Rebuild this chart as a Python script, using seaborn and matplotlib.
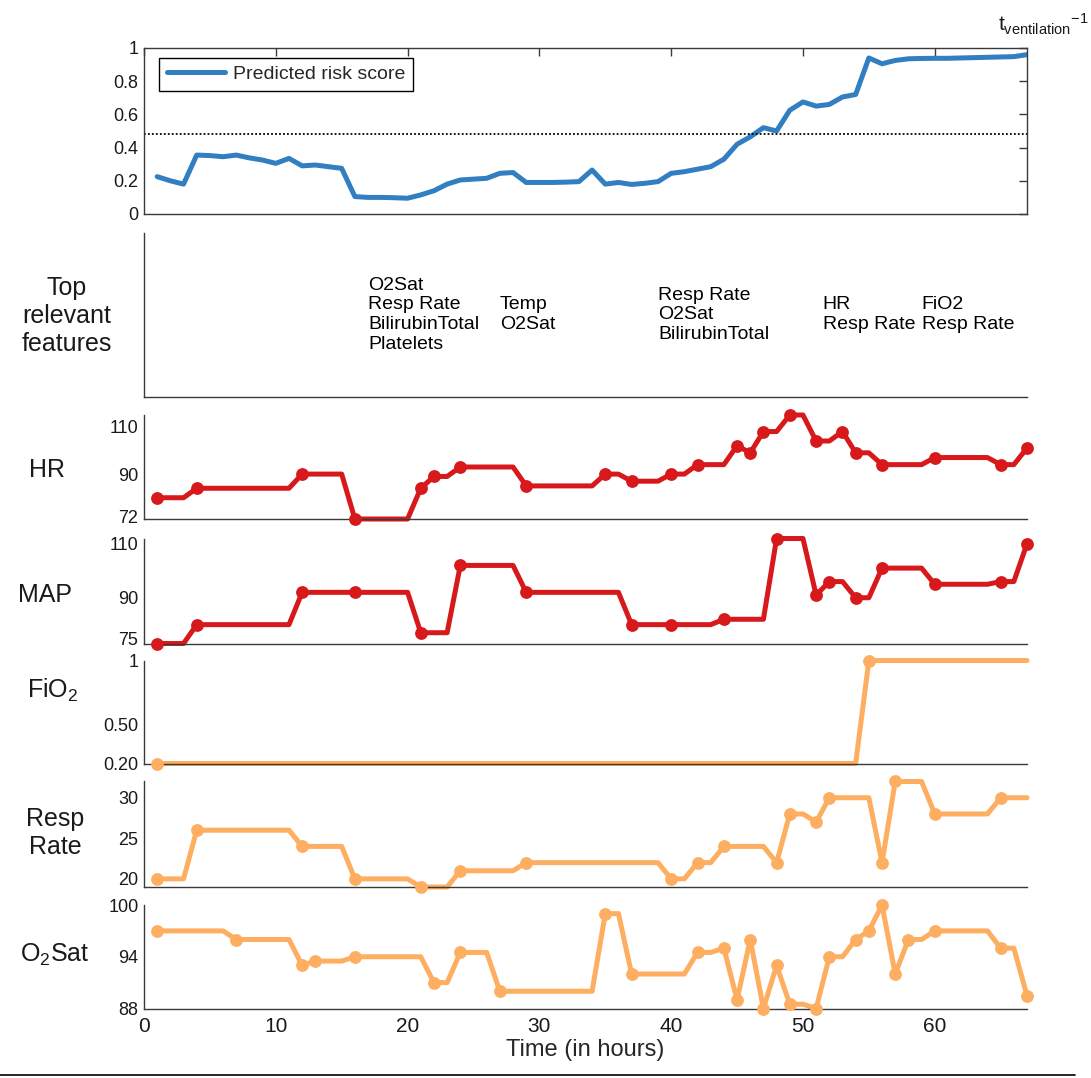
import numpy as np
import pandas as pd
import matplotlib
matplotlib.use("Agg")
import matplotlib.pyplot as plt
from matplotlib.lines import Line2D
import seaborn as sns

# ---------------- data ----------------
hours = list(range(1, 68))

risk_score = [0.225, 0.20, 0.18, 0.355, 0.352, 0.345, 0.355, 0.338, 0.325, 0.305,
              0.335, 0.29, 0.295, 0.285, 0.275, 0.105, 0.10, 0.10, 0.098, 0.095,
              0.115, 0.14, 0.18, 0.205, 0.21, 0.215, 0.245, 0.25, 0.19, 0.19,
              0.19, 0.192, 0.195, 0.265, 0.18, 0.19, 0.178, 0.185, 0.195, 0.245,
              0.255, 0.27, 0.285, 0.33, 0.42, 0.465, 0.52, 0.50, 0.625, 0.675,
              0.65, 0.66, 0.705, 0.72, 0.94, 0.905, 0.925, 0.935, 0.937, 0.938,
              0.938, 0.94, 0.942, 0.944, 0.946, 0.948, 0.96]
risk_threshold = 0.48

feature_hours = [17, 27, 39, 51.5, 59]
feature_lists = [["O2Sat", "Resp Rate", "BilirubinTotal", "Platelets"],
                 ["Temp", "O2Sat"],
                 ["Resp Rate", "O2Sat", "BilirubinTotal"],
                 ["HR", "Resp Rate"],
                 ["FiO2", "Resp Rate"]]

hr_times = [1, 4, 12, 16, 21, 22, 24, 29, 35, 37, 40, 42, 45, 46, 47, 49, 51, 53, 54, 56, 60, 65, 67]
hr_values = [80, 84, 90, 71, 84, 89, 93, 85, 90, 87, 90, 94, 102, 99, 108, 115, 104, 108, 99, 94, 97, 94, 101]

map_times = [1, 4, 12, 16, 21, 24, 29, 37, 40, 44, 48, 51, 52, 54, 56, 60, 65, 67]
map_values = [73, 80, 92, 92, 77, 102, 92, 80, 80, 82, 112, 91, 96, 90, 101, 95, 96, 110]

fio2_times = [1, 55]
fio2_values = [0.20, 1.0]

rr_times = [1, 4, 12, 16, 21, 24, 29, 40, 42, 44, 48, 49, 51, 52, 56, 57, 60, 65]
rr_values = [20, 26, 24, 20, 19, 21, 22, 20, 22, 24, 22, 28, 27, 30, 22, 32, 28, 30]

o2_times = [1, 7, 12, 13, 16, 22, 24, 27, 35, 37, 42, 44, 45, 46, 47, 48, 49, 51, 52, 54, 55, 56, 57, 58, 60, 65, 67]
o2_values = [97, 96, 93, 93.5, 94, 91, 94.5, 90, 99, 92, 94.5, 95, 89, 96, 88, 93, 88.5, 88, 94, 96, 97, 100, 92, 96, 97, 95, 89.5]

x_ticks = [0, 10, 20, 30, 40, 50, 60]

# ---------------- style ----------------
sns.set_theme(style="white")
plt.rcParams["font.family"] = ["Liberation Sans", "DejaVu Sans"]
plt.rcParams["mathtext.fontset"] = "custom"
plt.rcParams["mathtext.rm"] = "Liberation Sans"
plt.rcParams["mathtext.it"] = "Liberation Sans:italic"
plt.rcParams["mathtext.bf"] = "Liberation Sans:bold"

AX_COLOR = "#3a3a3a"
BLUE = "#317FC0"
RED = "#D7191C"
ORANGE = "#FDAE61"

W, H = 1091, 1078
fig = plt.figure(figsize=(W / 100, H / 100), dpi=100)


def panel_rect(top, bottom, left=144, right=1027):
    return [left / W, 1 - bottom / H, (right - left) / W, (bottom - top) / H]


def style_axes(ax, box=False, show_xlabels=False):
    ax.set_facecolor("white")
    for name, sp in ax.spines.items():
        sp.set_color(AX_COLOR)
        sp.set_linewidth(1.0)
    if not box:
        ax.spines["top"].set_visible(False)
        ax.spines["right"].set_visible(False)
    ax.set_xlim(0, 67)
    ax.set_xticks(x_ticks)
    ax.tick_params(direction="in", length=6, width=1, color=AX_COLOR,
                   labelsize=13, labelcolor="#1a1a1a",
                   top=box, right=box)
    ax.tick_params(axis="y", pad=4)
    ax.tick_params(axis="x", labelsize=15, pad=6)
    if not show_xlabels:
        ax.set_xticklabels([])
    ax.set_xlabel("")
    ax.set_ylabel("")
    ax.grid(False)


def vital_panel(ax, times, values, color, ylim, yticks, yticklabels):
    filled = pd.Series(values, index=times, dtype=float).reindex(hours).ffill()
    line_df = pd.DataFrame({"hour": hours, "value": filled.values})
    meas_df = pd.DataFrame({"hour": times, "value": values})
    sns.lineplot(data=line_df, x="hour", y="value", ax=ax, color=color,
                 linewidth=3.6, errorbar=None, clip_on=False,
                 solid_joinstyle="round", solid_capstyle="round")
    sns.scatterplot(data=meas_df, x="hour", y="value", ax=ax, color=color,
                    s=85, linewidth=0, zorder=3, clip_on=False, legend=False)
    ax.set_ylim(*ylim)
    ax.set_yticks(yticks)
    ax.set_yticklabels(yticklabels)


# ---------------- risk score panel ----------------
ax_risk = fig.add_axes(panel_rect(48, 214))
risk_df = pd.DataFrame({"hour": hours, "risk": risk_score})
sns.lineplot(data=risk_df, x="hour", y="risk", ax=ax_risk, color=BLUE,
             linewidth=3.6, errorbar=None, label="Predicted risk score",
             solid_joinstyle="round")
ax_risk.axhline(risk_threshold, color="black", linestyle=(0, (1, 1.2)), linewidth=1.3)
ax_risk.set_ylim(0, 1)
ax_risk.set_yticks([0, 0.2, 0.4, 0.6, 0.8, 1.0])
ax_risk.set_yticklabels(["0", "0.2", "0.4", "0.6", "0.8", "1"])
style_axes(ax_risk, box=True)
leg = ax_risk.legend(loc="upper left", fontsize=14, frameon=True, fancybox=False,
                     edgecolor="black", framealpha=1, handlelength=3.0,
                     handletextpad=0.4, borderpad=0.4, borderaxespad=0,
                     bbox_to_anchor=(15.3 / 883, 1 - 9.7 / 166))
leg.get_frame().set_linewidth(1.0)

# ---------------- relevant features panel ----------------
ax_feat = fig.add_axes(panel_rect(232.5, 397))
ax_feat.set_ylim(0, 1)
ax_feat.set_yticks([0, 0.5, 1])
ax_feat.set_yticklabels([])
style_axes(ax_feat)
for t, feats in zip(feature_hours, feature_lists):
    ax_feat.text(t, 0.5, "\n".join(feats), ha="left", va="center",
                 fontsize=14, color="black", linespacing=1.2)

# ---------------- vital sign panels ----------------
ax_hr = fig.add_axes(panel_rect(415, 519))
vital_panel(ax_hr, hr_times, hr_values, RED, (71, 115), [72, 90, 110], ["72", "90", "110"])
style_axes(ax_hr)

ax_map = fig.add_axes(panel_rect(538.5, 643.5))
vital_panel(ax_map, map_times, map_values, RED, (73, 112), [75, 90, 110], ["75", "90", "110"])
style_axes(ax_map)

ax_fio2 = fig.add_axes(panel_rect(660.5, 763.5))
vital_panel(ax_fio2, fio2_times, fio2_values, ORANGE, (0.2, 1.0), [0.2, 0.5, 1.0], ["0.20", "0.50", "1"])
style_axes(ax_fio2)

ax_rr = fig.add_axes(panel_rect(781.5, 887))
vital_panel(ax_rr, rr_times, rr_values, ORANGE, (19, 32), [20, 25, 30], ["20", "25", "30"])
style_axes(ax_rr)

ax_o2 = fig.add_axes(panel_rect(905, 1008.5))
vital_panel(ax_o2, o2_times, o2_values, ORANGE, (88, 100), [88, 94, 100], ["88", "94", "100"])
style_axes(ax_o2, show_xlabels=True)
ax_o2.set_xticklabels([str(v) for v in x_ticks])
ax_o2.set_xlabel("Time (in hours)", fontsize=17, labelpad=2)

# ---------------- row labels ----------------
row_labels = [("Top\nrelevant\nfeatures", 67, 316),
              ("HR", 47, 470),
              ("MAP", 45, 595),
              ("FiO$_2$", 53, 690),
              ("Resp\nRate", 55, 833),
              ("O$_2$Sat", 55, 955)]
for text, px, py in row_labels:
    fig.text(px / W, 1 - py / H, text, ha="center", va="center",
             fontsize=18, color="#1a1a1a", linespacing=1.2)

fig.text(1088 / W, 1 - 24 / H, r"t$_{\mathrm{ventilation}}{}^{\mathrm{-1}}$",
         ha="right", va="center", fontsize=15, color="#1a1a1a")

fig.add_artist(Line2D([0, 1075 / W], [1 - 1075 / H, 1 - 1075 / H],
                      transform=fig.transFigure, color="black", linewidth=1.2))

fig.savefig("out.png", dpi=100, facecolor="white")
